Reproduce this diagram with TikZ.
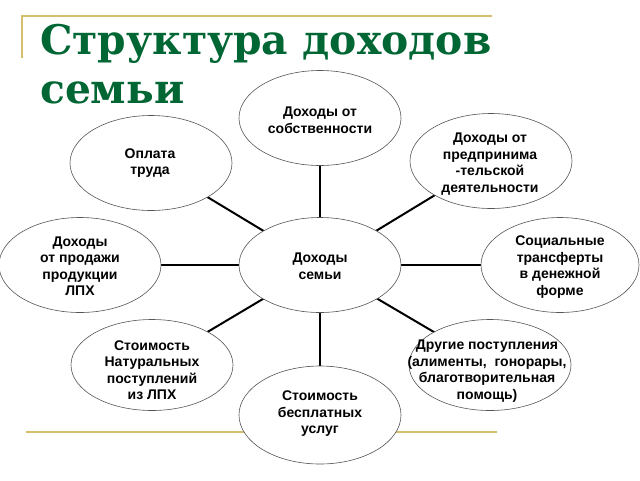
\documentclass[tikz,border=0pt]{standalone}
\usepackage{fontspec}
\setmainfont{Liberation Sans}
\newfontfamily\titlefont{DejaVu Serif}
\usetikzlibrary{shapes.geometric,backgrounds}
\definecolor{gold}{RGB}{214,190,110}
\definecolor{titlegreen}{RGB}{0,102,51}
\definecolor{rim}{RGB}{85,85,85}
\begin{document}
\begin{tikzpicture}[x=1pt,y=-1pt,
  oval/.style={ellipse, draw=rim, line width=0.6pt, fill=white, minimum width=162pt, minimum height=95pt, inner sep=0pt},
  lbl/.style={font=\fontsize{14}{16.5}\selectfont\bfseries, align=center, inner sep=0pt},
  link/.style={line width=2pt, black},
  rule/.style={gold, line width=2pt}]
\useasboundingbox (0,0) rectangle (640,480);
% gold rules
\coordinate (r1) at (22,16); \coordinate (r2) at (492,16); \coordinate (r3) at (22,58);
\coordinate (r4) at (26,432); \coordinate (r5) at (497,432);
\draw[rule] (r3) -- (r1) -- (r2);
\draw[rule] (r4) -- (r5);
% title
\node[anchor=base west, inner sep=0pt, text=titlegreen, font=\titlefont\bfseries\fontsize{40.8}{48}\selectfont] (title1) at (40,54) {Структура доходов};
\node[anchor=base west, inner sep=0pt, text=titlegreen, font=\titlefont\bfseries\fontsize{40.8}{48}\selectfont] (title2) at (40,103) {семьи};
% ellipses
\node[oval] (c) at (320,265) {};
\node[oval] (top) at (320,118) {};
\node[oval] (tl) at (151,163) {};
\node[oval] (tr) at (491,161) {};
\node[oval] (l) at (80,265) {};
\node[oval, minimum width=158pt] (r) at (560,265) {};
\node[oval, minimum height=91pt] (bl) at (152,365) {};
\node[oval, minimum height=91pt] (br) at (490,365) {};
\node[oval, minimum height=98pt] (b) at (320,415) {};
% connectors
\begin{pgfonlayer}{background}
\foreach \n in {top,tl,tr,l,r,bl,br,b} \draw[link] (c.center) -- (\n.center);
\end{pgfonlayer}
% labels
\node[lbl] (tc) at (320,266) {Доходы\\семьи};
\node[lbl] (ttop) at (320,120) {Доходы от\\собственности};
\node[lbl] (ttl) at (150,163) {Оплата\\труда};
\node[lbl] (ttr) at (490,164) {Доходы от\\предпринима\\-тельской\\деятельности};
\node[lbl] (tl2) at (80,266) {Доходы\\от продажи\\продукции\\ЛПХ};
\node[lbl] (tr2) at (560,267) {Социальные\\трансферты\\в денежной\\форме};
\node[lbl] (tbl) at (152,370) {Стоимость\\Натуральных\\поступлений\\из ЛПХ};
\node[lbl] (tbr) at (487,371) {Другие поступления\\(алименты,\ \ гонорары,\\благотворительная\\помощь)};
\node[lbl] (tb) at (320,414) {Стоимость\\бесплатных\\услуг};
\end{tikzpicture}
\end{document}
